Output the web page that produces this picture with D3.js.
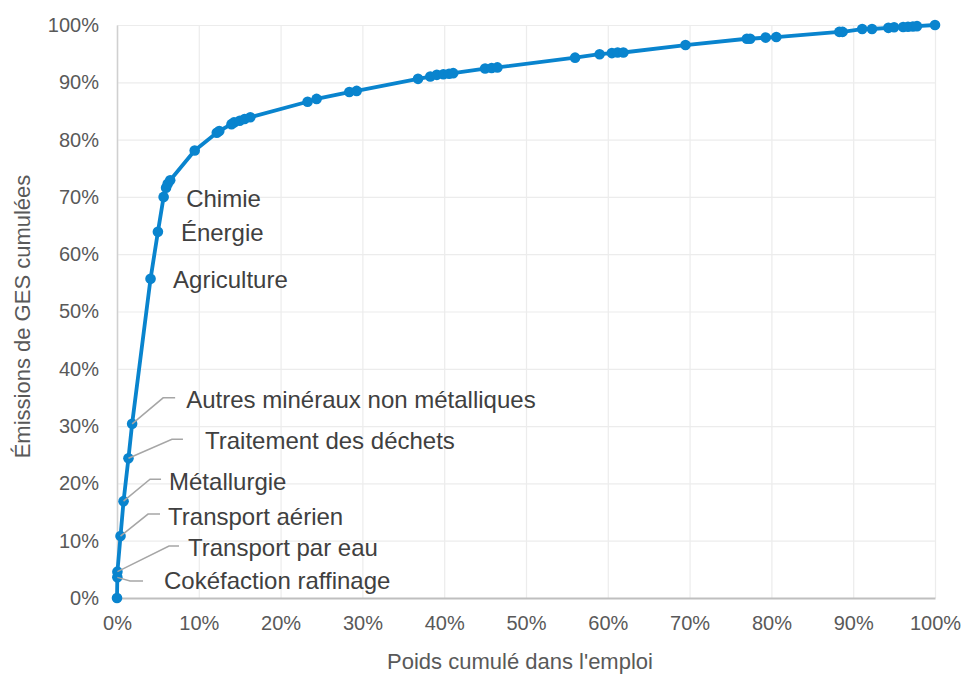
<!DOCTYPE html>
<html>
<head>
<meta charset="utf-8">
<script src="https://cdn.jsdelivr.net/npm/d3@7"></script>
<style>
    body { margin: 0; background: #fff; }
    svg { display: block; font-family: "Liberation Sans", Arial, sans-serif; }
</style>
</head>
<body>
<div id="chart"></div>
<script>
// Cumulative share of employment (x, %) and of GHG emissions (y, %)
const cumEmploi = [
    0, 0.04, 0.05, 0.43, 0.8, 1.4, 1.85, 4.1, 5.0, 5.7,
    6.0, 6.2, 6.5, 9.5, 12.2, 12.5, 14.0, 14.3, 15.0, 15.6,
    16.3, 23.3, 24.4, 28.4, 29.3, 36.8, 38.3, 39.1, 39.9, 40.6,
    41.1, 45.0, 45.8, 46.5, 56.0, 59.0, 60.5, 61.2, 61.9, 69.5,
    77.0, 77.4, 79.3, 80.6, 88.3, 88.7, 91.1, 92.3, 94.3, 95.0,
    96.1, 96.7, 97.3, 97.8, 100
];
const cumGes = [
    0, 3.6, 4.6, 10.8, 16.9, 24.4, 30.4, 55.7, 63.9, 70.0,
    71.6, 72.3, 72.9, 78.1, 81.2, 81.5, 82.7, 83.0, 83.3, 83.6,
    83.9, 86.6, 87.1, 88.3, 88.5, 90.6, 91.0, 91.3, 91.4, 91.5,
    91.6, 92.4, 92.5, 92.6, 94.3, 94.9, 95.1, 95.2, 95.2, 96.5,
    97.6, 97.6, 97.8, 97.9, 98.8, 98.8, 99.3, 99.3, 99.5, 99.6,
    99.65, 99.7, 99.75, 99.8, 100
];
// labelled sectors: index of the point in the arrays above
const labelIndex = [1, 2, 3, 4, 5, 6, 7, 8, 9];
const labelNames = [
    'Cokéfaction raffinage', 'Transport par eau', 'Transport aérien',
    'Métallurgie', 'Traitement des déchets', 'Autres minéraux non métalliques',
    'Agriculture', 'Énergie', 'Chimie'
];
const tickValues = [0, 10, 20, 30, 40, 50, 60, 70, 80, 90, 100];

const width = 963, height = 676;
const margin = { top: 25, right: 28, bottom: 78, left: 117 };
const innerW = width - margin.left - margin.right;
const innerH = height - margin.top - margin.bottom;

// label placement, pixel offsets from the point (elbow, line end, text)
const labelLayout = [
    { ex: 12.7, ey: 3.6, lx: 25.7, tx: 46.7, ty: 3.6 },
    { ex: 51.6, ey: -25.6, lx: 61.6, tx: 70.6, ty: -23.6 },
    { ex: 27.5, ey: -22, lx: 39.5, tx: 47.5, ty: -20 },
    { ex: 26.5, ey: -22, lx: 37.5, tx: 45.5, ty: -20 },
    { ex: 43.5, ey: -19, lx: 54.5, tx: 76.5, ty: -18 },
    { ex: 31, ey: -26, lx: 43, tx: 54, ty: -24 },
    { tx: 22.5, ty: 1 },
    { tx: 23, ty: 1 },
    { tx: 22.5, ty: 2 }
];

const points = cumEmploi.map((x, i) => ({ x: x, y: cumGes[i] }));

const x = d3.scaleLinear().domain([0, 100]).range([0, innerW]);
const y = d3.scaleLinear().domain([0, 100]).range([innerH, 0]);
const fmt = d => d + '%';

const svg = d3.select('#chart')
    .append('svg')
    .attr('width', width)
    .attr('height', height);

const g = svg.append('g')
    .attr('transform', `translate(${margin.left},${margin.top})`);

// Gridlines
g.append('g')
    .attr('transform', `translate(0,${innerH})`)
    .call(d3.axisBottom(x).tickValues(tickValues).tickSize(-innerH).tickFormat(''))
    .call(a => a.select('.domain').remove())
    .call(a => a.selectAll('line').attr('stroke', '#ececec').attr('stroke-width', 1.2));

g.append('g')
    .call(d3.axisLeft(y).tickValues(tickValues).tickSize(-innerW).tickFormat(''))
    .call(a => a.select('.domain').remove())
    .call(a => a.selectAll('line').attr('stroke', '#ececec').attr('stroke-width', 1.2));

// Axes
const xAxis = g.append('g')
    .attr('transform', `translate(0,${innerH})`)
    .call(d3.axisBottom(x).tickValues(tickValues).tickSize(0).tickPadding(18).tickFormat(fmt));
xAxis.select('.domain').attr('stroke', '#bfbfbf').attr('stroke-width', 2);
xAxis.selectAll('text')
    .attr('fill', '#595959')
    .attr('font-size', '20px');

const yAxis = g.append('g')
    .call(d3.axisLeft(y).tickValues(tickValues).tickSize(0).tickPadding(18).tickFormat(fmt));
yAxis.select('.domain').attr('stroke', '#d0d0d0').attr('stroke-width', 1.5);
yAxis.selectAll('text')
    .attr('fill', '#595959')
    .attr('font-size', '20px');

// Axis titles
svg.append('text')
    .attr('x', margin.left + innerW / 2 - 6)
    .attr('y', 669)
    .attr('text-anchor', 'middle')
    .attr('fill', '#595959')
    .attr('font-size', '22px')
    .text("Poids cumulé dans l'emploi");

svg.append('text')
    .attr('transform', `translate(30,${margin.top + innerH / 2 + 5}) rotate(-90)`)
    .attr('text-anchor', 'middle')
    .attr('fill', '#595959')
    .attr('font-size', '22px')
    .text('Émissions de GES cumulées');

// Curve
const line = d3.line()
    .x(d => x(d.x))
    .y(d => y(d.y));

g.append('path')
    .datum(points)
    .attr('fill', 'none')
    .attr('stroke', '#0984ce')
    .attr('stroke-width', 3.8)
    .attr('stroke-linejoin', 'round')
    .attr('d', line);

g.append('g')
    .selectAll('circle')
    .data(points)
    .enter()
    .append('circle')
    .attr('cx', d => x(d.x))
    .attr('cy', d => y(d.y))
    .attr('r', 5.3)
    .attr('fill', '#0984ce');

// Labels and leader lines
const labels = labelIndex.map((idx, i) => ({
    px: x(points[idx].x),
    py: y(points[idx].y),
    name: labelNames[i],
    lay: labelLayout[i]
}));

const lab = g.append('g');

lab.selectAll('polyline')
    .data(labels.filter(d => d.lay.ex !== undefined))
    .enter()
    .append('polyline')
    .attr('fill', 'none')
    .attr('stroke', '#a6a6a6')
    .attr('stroke-width', 1.5)
    .attr('points', d => [
        [d.px, d.py],
        [d.px + d.lay.ex, d.py + d.lay.ey],
        [d.px + d.lay.lx, d.py + d.lay.ey]
    ].map(p => p.join(',')).join(' '));

lab.selectAll('text')
    .data(labels)
    .enter()
    .append('text')
    .attr('x', d => d.px + d.lay.tx)
    .attr('y', d => d.py + d.lay.ty)
    .attr('dy', '0.35em')
    .attr('fill', '#404040')
    .attr('font-size', '24px')
    .text(d => d.name);
</script>
</body>
</html>
